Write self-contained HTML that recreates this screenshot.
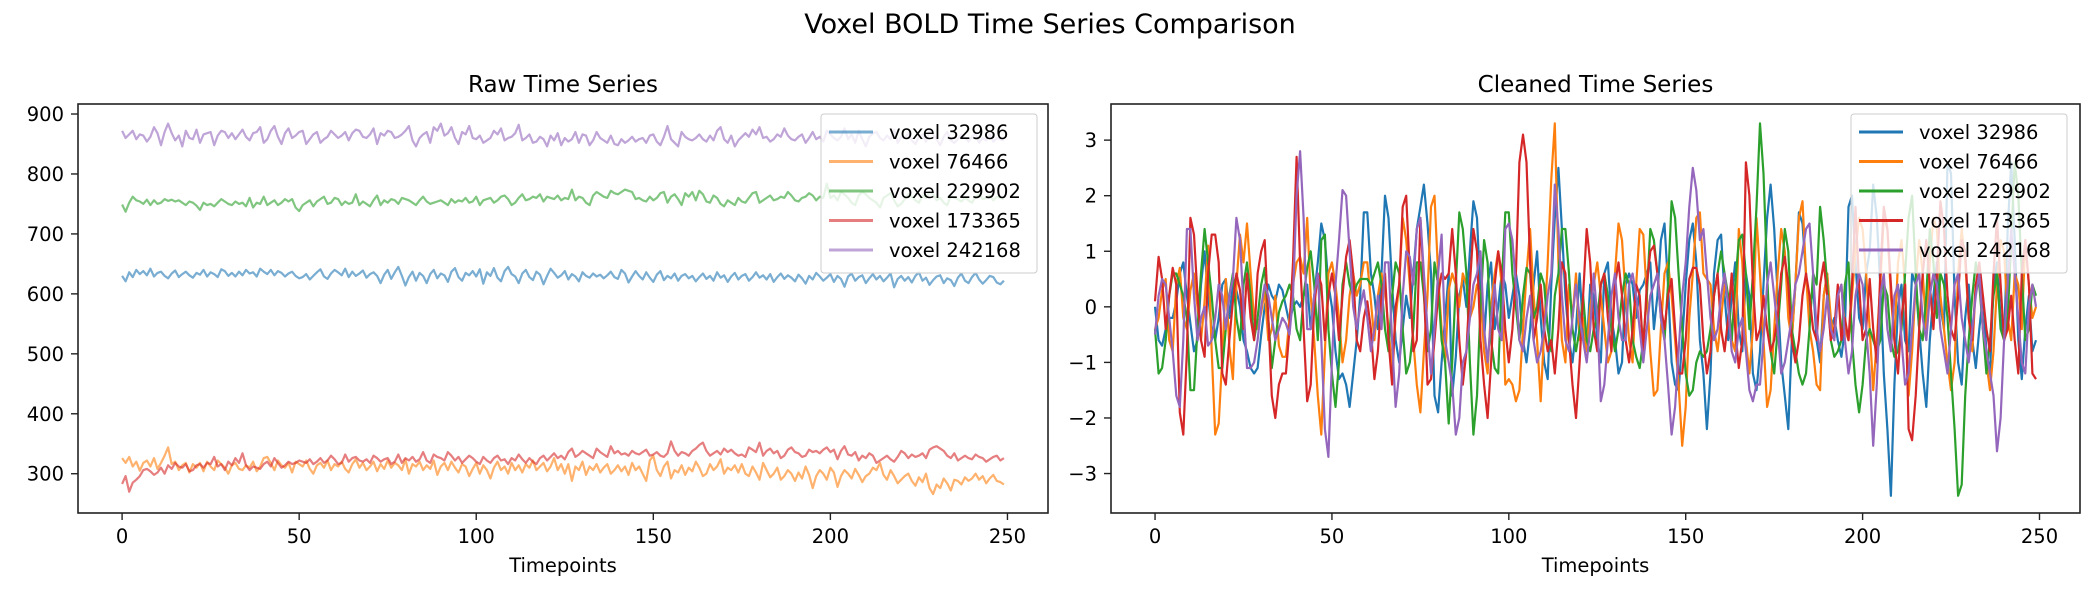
<!DOCTYPE html>
<html><head><meta charset="utf-8"><style>
body{margin:0;background:#fff;}
svg{display:block;font-family:"DejaVu Sans","Liberation Sans",sans-serif;}
</style></head><body>
<svg id="chart" width="2100" height="600" viewBox="0 0 2100 600" xmlns="http://www.w3.org/2000/svg">
<text x="1050" y="33" font-size="27" text-anchor="middle">Voxel BOLD Time Series Comparison</text>
<g id="left"></g>
<g id="right"></g>
</svg>
<script>
const seriesNames = ['voxel 32986','voxel 76466','voxel 229902','voxel 173365','voxel 242168'];
const seriesColors = ['#1f77b4','#ff7f0e','#2ca02c','#d62728','#9467bd'];
const rawTicksY = [300,400,500,600,700,800,900];
const cleanTicksY = [-3,-2,-1,0,1,2,3];
const ticksX = [0,50,100,150,200,250];

const raw32986 = [630,621,636,628,640,633,638,631,642,629,635,637,630,626,634,639,628,633,637,631,627,635,632,640,629,
636,633,628,641,638,630,635,629,637,631,640,634,636,629,642,637,633,640,631,638,635,629,634,637,630,
626,628,633,624,630,636,641,629,625,634,640,636,631,642,628,637,630,634,639,627,633,636,630,618,632,
640,625,636,645,630,614,628,637,622,635,630,618,633,640,626,634,631,620,637,643,628,622,635,631,638,
629,641,617,636,630,643,627,621,638,645,633,629,618,634,640,628,623,637,632,616,630,642,635,627,631,
638,624,633,629,621,636,630,627,634,629,632,626,631,637,628,625,640,634,619,629,638,630,624,636,627,
620,632,638,623,630,626,634,622,630,633,626,630,621,628,634,625,630,622,636,627,631,620,629,635,624,
630,633,622,628,636,627,631,624,633,620,628,634,625,631,627,621,632,626,617,630,624,635,629,622,627,
633,620,630,625,612,629,634,622,628,631,618,626,633,624,630,621,627,634,611,625,630,622,628,619,630,
636,622,627,615,623,629,631,618,626,623,613,627,634,622,618,628,635,624,617,623,630,628,619,616,622];
const raw76466 = [326,318,328,312,320,305,318,322,312,326,308,318,330,344,316,320,306,314,318,302,316,310,318,304,320,
312,306,322,316,310,300,314,318,308,306,314,310,320,304,312,326,328,318,306,322,314,310,318,302,320,
316,312,322,308,300,314,318,310,322,306,316,312,320,308,302,316,324,310,318,306,312,320,304,316,308,
322,310,318,314,306,324,300,316,312,320,306,314,308,322,298,312,318,306,320,310,302,316,312,296,308,
318,300,314,306,292,310,320,306,312,300,318,306,314,302,316,310,322,306,312,318,304,312,326,306,316,
300,316,288,312,306,320,298,312,306,316,302,310,316,300,306,314,304,312,298,318,306,312,300,288,322,
330,306,296,312,320,292,306,302,314,298,310,304,320,310,296,300,316,306,312,324,300,310,306,314,302,
316,300,296,312,302,290,318,306,294,300,310,290,296,306,300,288,302,292,312,298,276,296,306,300,290,
310,302,278,296,306,300,292,308,298,286,296,300,310,306,318,298,290,306,296,284,290,296,300,288,280,
294,286,300,276,266,282,276,292,284,272,290,288,282,294,288,292,300,290,296,284,292,298,288,286,282];
const raw229902 = [749,737,752,762,756,754,750,757,748,756,750,752,758,755,757,754,756,752,748,754,752,747,740,752,748,
750,746,752,758,754,750,748,754,750,752,746,760,744,752,750,762,748,752,756,748,752,758,754,758,744,
738,748,752,756,746,754,758,762,750,752,760,758,748,754,750,752,766,748,754,750,746,756,764,748,756,
752,758,756,750,760,758,756,752,748,756,762,754,750,752,754,756,752,748,758,752,756,754,760,752,754,
762,748,756,758,760,752,756,762,764,758,748,752,760,766,756,758,762,760,766,754,762,760,758,764,756,
760,758,774,756,762,760,752,748,764,770,766,762,760,772,768,766,770,774,772,770,758,760,756,754,762,
756,760,768,770,752,762,766,758,748,768,762,770,756,772,766,754,752,764,760,750,746,756,752,748,760,
754,752,760,768,770,752,756,760,764,756,758,762,760,770,764,756,754,760,762,768,764,756,762,760,784,
760,764,756,770,766,760,752,748,764,770,766,760,756,752,744,760,764,768,756,746,750,758,766,762,756,
752,764,760,770,766,756,760,752,748,764,760,758,754,760,756,752,762,766,758,760,764,756,762,760,758];
const raw173365 = [283,296,270,285,290,296,306,308,304,298,302,310,300,314,308,318,312,310,316,304,306,314,316,310,318,
316,328,312,316,306,320,314,326,318,334,314,306,312,310,308,316,320,312,326,318,310,314,320,316,318,
322,320,318,324,316,320,326,318,322,330,324,316,318,332,320,326,328,322,320,324,318,330,326,320,324,
326,316,320,332,318,326,322,328,320,324,336,322,318,332,328,326,322,336,330,322,328,318,324,330,326,
320,316,328,322,318,326,330,322,324,316,326,322,332,324,318,326,320,316,326,330,322,328,334,326,330,
324,336,342,328,332,338,334,330,326,342,336,332,328,346,334,338,332,334,330,338,334,332,336,340,330,
332,336,330,328,334,354,338,330,336,334,330,338,342,348,352,338,330,334,338,332,342,336,340,334,330,
332,328,344,340,336,352,330,338,342,334,338,326,330,340,344,336,334,328,330,340,336,338,334,340,344,
336,340,324,338,346,332,330,336,322,330,326,334,330,318,322,326,330,324,320,328,338,334,326,332,328,
330,334,326,340,344,346,342,338,330,326,334,322,326,330,326,324,332,328,326,320,324,328,330,322,326];
const raw242168 = [872,860,866,872,858,866,864,854,862,878,868,848,870,884,868,856,864,846,872,860,858,874,852,866,868,
870,848,864,872,870,860,868,858,866,874,862,856,868,870,878,852,858,872,880,862,850,868,876,860,864,
870,872,850,858,866,870,852,858,862,872,866,860,864,870,856,868,874,872,862,860,866,876,850,868,864,
872,870,860,862,866,872,880,856,846,860,866,870,852,878,872,884,864,868,878,860,850,870,866,880,860,
858,864,852,856,860,872,866,876,856,860,862,868,882,856,860,866,852,854,862,858,846,864,856,868,848,
860,854,858,870,852,866,864,848,856,870,860,856,852,864,850,848,858,852,856,862,854,858,860,852,864,
866,854,848,862,880,858,852,846,870,862,858,856,860,866,858,854,864,856,872,878,858,852,864,846,856,
862,868,862,874,866,878,860,862,854,858,866,862,876,864,858,856,862,866,852,860,870,858,862,854,872,
866,860,856,862,876,858,866,852,872,858,846,862,868,870,860,856,864,858,874,852,862,860,868,856,850,
862,866,854,872,866,858,848,862,870,856,852,858,866,860,854,862,868,852,860,856,866,854,860,858,856];

const cln32986 = [0.0,-0.6,-0.7,-0.4,-0.2,-0.2,0.1,0.6,0.8,0.2,-0.3,-0.8,-0.6,0.4,1.0,0.2,-0.4,-0.6,-0.2,0.4,0.5,-0.2,0.4,0.3,0.0,
-0.6,-0.8,-1.1,-1.2,-1.1,-0.5,0.0,0.4,0.2,0.1,0.4,0.3,0.0,-0.3,0.0,0.1,0.0,0.2,0.4,-0.4,0.2,0.8,1.5,1.2,0.4,
0.0,-0.8,-1.3,-1.2,-1.4,-1.8,-1.2,-0.6,0.2,1.7,1.7,0.6,0.2,-0.4,0.6,2.0,1.6,0.4,-0.6,-1.0,-0.4,0.2,-0.2,0.6,1.4,
1.8,2.2,1.5,0.6,-1.6,-1.9,-1.0,-0.2,0.6,-1.6,-0.9,0.2,0.5,0.0,1.0,1.9,1.6,0.2,-0.6,0.4,0.8,-0.4,0.0,0.6,0.4,
-0.2,0.2,0.6,0.2,-0.6,-1.0,-0.4,0.4,1.0,-0.2,-1.0,-1.3,0.4,1.6,2.5,1.4,0.2,-0.6,-1.0,-0.4,0.6,-0.4,-0.8,0.4,0.2,
-0.6,-1.0,0.6,0.8,-0.2,-0.6,-1.2,-1.0,0.4,0.6,0.4,-0.2,0.3,0.4,0.6,0.8,-0.4,0.2,1.2,1.5,0.4,-1.0,-1.4,-1.5,-0.6,
0.4,1.2,1.5,0.8,-0.6,-1.2,-2.2,-1.2,0.6,1.2,1.3,0.2,-0.6,0.2,0.8,-0.4,-0.8,0.6,0.2,-1.2,-1.5,-0.8,0.4,1.6,2.2,
1.4,0.2,-1.0,-1.6,-2.2,-0.6,0.4,1.7,1.5,0.6,-0.2,0.4,-0.6,-1.0,0.2,0.6,-0.4,-0.2,-0.6,-0.9,-0.4,1.8,2.0,0.8,-0.2,
-0.4,0.6,1.0,2.2,1.6,0.4,-1.2,-2.2,-3.4,-1.4,0.0,0.4,-0.6,-0.8,0.6,0.4,-0.4,-1.2,-1.8,-0.6,0.2,0.8,0.0,-0.4,2.6,
2.4,0.2,-1.0,-1.4,-0.2,0.4,-0.6,-1.1,-0.4,0.2,-0.8,-1.2,0.4,0.8,-0.2,-0.6,1.4,2.6,1.2,-0.6,-1.3,-0.4,0.2,-0.8,-0.6];
const cln76466 = [-0.4,-0.2,0.3,0.5,-0.6,-0.8,0.4,0.7,-0.2,-0.4,0.3,0.6,0.0,-0.6,0.1,1.1,-0.8,-2.3,-2.1,-0.9,0.5,-0.7,-1.3,0.4,1.3,
0.8,1.5,0.6,-0.2,-0.4,-0.1,0.3,-0.6,-0.4,0.2,-0.7,-0.9,-0.9,-0.2,0.4,0.8,0.9,0.6,1.6,0.2,-0.6,-1.6,-2.3,-0.8,0.6,
0.8,0.4,-0.2,-1.0,-0.6,0.2,0.6,0.2,0.4,0.8,0.8,0.1,-0.6,0.2,0.6,0.3,-0.4,-1.1,-0.2,0.4,1.6,1.2,0.4,-0.6,-1.4,
-1.9,-0.8,0.2,1.8,2.0,0.6,-0.4,-1.0,0.3,0.6,0.4,0.0,0.6,0.4,-0.2,0.0,0.4,0.2,-0.8,-1.2,0.0,0.6,1.0,0.4,-1.4,
-1.3,-1.4,-1.7,-1.5,-0.4,0.6,1.4,0.2,-0.6,-1.7,-0.4,0.8,2.3,3.3,0.8,-0.6,-1.0,0.4,-0.2,0.6,-0.6,-0.2,-0.8,0.0,0.4,
0.8,0.2,-0.4,-1.0,-0.8,0.6,1.5,1.2,0.2,-0.6,-1.0,0.4,1.4,1.3,0.2,-0.8,-1.6,-1.5,-0.4,0.6,0.8,0.2,-0.6,-1.4,-2.5,
-1.8,-0.2,0.6,1.6,1.7,0.6,0.5,0.4,-0.4,-0.8,-0.2,0.4,0.2,-0.6,-0.8,1.4,0.8,-0.6,-1.2,-0.4,1.6,0.6,-0.6,-1.8,-1.5,
-0.4,0.6,1.4,1.0,-0.2,-0.6,0.4,1.6,1.9,0.6,-0.4,-0.8,-1.4,-1.5,0.2,0.6,-0.2,-0.6,0.2,0.4,-0.4,-0.6,0.2,1.0,1.6,
1.4,0.6,-0.4,-1.5,-0.6,0.4,1.6,1.4,0.2,-0.6,0.8,1.2,0.4,-1.6,-0.8,0.4,1.2,0.6,-0.4,0.8,1.6,1.4,0.2,-0.4,-1.0,
-1.5,-1.0,0.6,1.4,0.8,-0.2,-0.8,0.4,0.6,-0.4,-1.0,-1.5,-0.8,0.4,1.2,1.0,-0.2,-0.6,0.6,0.4,-0.4,1.2,0.4,-0.2,0.0];
const cln229902 = [-0.4,-1.2,-1.1,-0.6,0.2,0.6,0.6,0.4,0.2,-0.2,-1.5,-1.5,-0.4,0.6,1.4,0.8,0.2,-0.6,-1.1,-1.1,-0.4,0.2,0.6,-0.2,-0.6,
0.4,0.8,0.2,-0.6,-0.2,0.4,0.7,-0.2,-1.1,-0.6,-0.1,0.1,0.2,0.4,0.2,-0.4,-0.6,0.2,0.7,1.0,0.4,-0.6,1.2,1.3,-0.4,
-1.2,-1.8,-1.0,0.4,0.8,0.4,0.2,0.4,0.5,0.5,0.5,0.4,0.6,0.8,0.4,-0.4,-0.8,0.2,0.8,0.6,-0.4,-1.2,-1.0,-0.4,0.8,
0.8,0.2,-0.8,-0.4,0.8,0.4,-0.6,-1.0,-2.1,-1.0,0.4,1.7,1.4,0.6,-1.0,-2.3,-1.6,0.0,1.2,0.8,-0.6,-1.1,-1.2,0.4,1.7,
1.7,0.6,0.0,-0.6,0.2,0.7,0.6,-0.2,0.0,0.6,0.4,-0.4,-0.8,0.2,0.6,1.4,1.4,0.6,-0.4,-0.8,-0.4,0.2,-0.6,-0.8,-0.4,
-0.2,0.4,0.6,0.2,-0.4,-0.8,-0.4,0.2,0.6,0.4,-0.6,-0.9,-1.1,-0.6,0.2,1.4,1.2,0.6,-0.2,-0.6,0.4,1.9,1.6,0.6,-0.4,
-1.2,-1.6,-1.5,-1.0,-0.8,-0.9,-0.8,-0.4,0.2,0.6,1.0,0.6,0.2,-0.6,0.4,1.2,1.3,0.6,-0.4,0.6,1.8,3.3,2.4,0.6,-0.8,
-1.2,-0.4,0.4,1.4,1.0,-0.4,-0.8,-1.2,-1.4,-1.2,-0.4,0.6,0.4,1.8,1.2,0.4,-0.6,-0.9,-0.8,-0.6,0.4,0.8,-0.6,-1.4,-1.9,
-1.4,-0.6,-0.4,-0.6,-0.8,-0.6,0.4,0.2,-0.6,-0.9,-0.8,-0.4,0.6,1.6,2.0,0.6,-0.4,-0.6,0.2,1.4,0.8,-0.2,0.6,0.4,-0.2,
-1.2,-2.2,-3.4,-3.2,-1.6,-0.6,0.2,0.8,0.4,-0.4,-1.2,-0.6,0.2,0.6,-0.4,-0.6,-0.2,1.2,2.6,2.0,0.6,-0.6,-0.4,0.4,0.2];
const cln173365 = [0.1,0.9,0.5,-0.4,0.2,0.7,0.4,-1.9,-2.3,-0.8,1.6,1.3,0.2,-0.6,-0.9,0.6,1.3,1.3,0.8,-1.2,-1.4,-0.6,0.1,0.6,0.3,
-0.4,0.6,-0.2,-0.6,0.6,1.0,1.2,-0.2,-1.6,-2.0,-1.4,-1.2,-1.2,-0.4,0.8,2.7,0.8,-0.4,-1.7,-1.4,0.0,0.6,0.4,-0.6,0.2,
0.6,0.2,-0.6,0.2,0.9,1.2,0.6,-0.6,-0.8,-0.2,0.1,-0.4,-1.3,-0.8,0.2,0.6,-0.6,-1.4,0.0,0.4,1.8,2.0,0.6,-0.8,-0.6,
1.6,0.4,-1.4,-1.3,-0.6,0.2,0.6,0.5,0.6,1.4,0.6,-0.6,-1.4,-0.8,0.4,1.4,1.0,-0.6,-1.4,-2.0,-1.0,0.4,1.0,0.6,-0.4,
-1.0,-0.4,0.6,2.6,3.1,2.6,0.8,-0.6,-0.2,0.4,-0.4,-0.8,-0.6,-1.2,-0.4,0.8,0.6,-0.6,-1.4,-2.0,-1.0,0.2,1.4,0.8,-0.4,
-0.8,0.4,0.6,-0.2,-0.8,0.4,0.8,0.2,-0.6,-1.0,-0.4,0.4,0.2,-0.8,0.4,1.0,1.1,0.6,0.0,-0.4,0.2,0.5,-0.4,-1.2,-1.2,
-0.6,0.5,0.7,0.7,0.4,-0.6,-1.2,-0.8,0.2,0.6,-0.4,-0.8,-0.2,0.6,-0.4,-1.1,-0.6,2.6,2.0,0.4,-0.6,-0.4,0.2,-0.4,-0.8,
-0.6,-0.2,0.6,0.9,0.4,-0.6,-1.0,-0.6,0.2,0.6,0.2,-0.4,-0.6,0.4,0.8,0.2,-0.6,-0.4,0.4,-0.6,-0.2,-0.6,0.4,1.8,0.4,
-0.6,-0.4,0.5,-0.4,-1.0,0.6,1.8,1.4,0.4,-0.6,-1.2,-0.2,0.4,-2.2,-2.4,-1.6,-0.4,0.6,1.2,0.4,-0.4,0.6,1.9,1.4,0.2,
-0.4,-0.6,0.2,1.2,1.0,-0.2,-0.6,0.4,0.8,0.2,-0.4,-0.8,0.6,1.6,0.4,-0.6,-0.4,0.2,-0.6,-1.2,0.6,1.2,0.4,-1.2,-1.3];
const cln242168 = [-0.5,0.2,0.5,0.4,-0.2,-0.8,-1.6,-1.8,-0.6,1.4,1.4,0.2,-0.6,-0.2,0.0,-0.7,-0.6,-0.2,0.4,0.2,-0.4,0.2,0.5,1.6,1.2,
0.0,-1.1,-1.1,-1.0,-0.6,0.0,0.4,0.2,-0.2,-0.6,-0.4,-0.2,-0.3,-0.5,0.2,2.0,2.8,1.6,-0.4,-0.4,0.2,0.6,-0.6,-2.2,-2.7,
-1.0,0.4,1.2,2.1,2.0,1.0,0.0,-0.4,0.0,0.3,-0.2,-0.8,-0.4,0.2,-0.4,0.8,0.8,-0.6,-1.8,-1.2,0.2,1.0,0.9,0.4,1.4,
1.6,0.6,-0.4,-1.2,-0.4,0.6,1.3,-0.6,-1.0,-1.4,-2.3,-2.0,-1.0,-0.8,-0.2,0.4,0.6,1.0,-0.4,-1.0,-0.2,0.4,-0.4,-0.6,1.4,
1.5,1.2,0.4,-0.6,-0.8,-0.2,0.2,-0.6,-1.0,-0.8,-0.4,0.2,0.6,2.2,1.4,0.2,-0.6,-0.8,-0.2,0.4,-0.2,-0.6,-1.0,-0.4,0.6,
-0.2,-1.7,-1.4,-0.6,0.2,0.6,-0.2,-0.6,-0.6,0.4,0.6,0.2,-0.4,-1.0,-0.4,0.2,0.4,0.6,-0.2,-0.6,-1.4,-2.3,-1.8,-0.8,0.2,
0.8,1.8,2.5,2.1,1.2,1.4,0.6,-0.2,-0.6,-0.4,0.2,0.6,0.0,-0.8,-1.0,-0.4,-0.2,-0.8,-1.5,-1.7,-1.4,-1.4,-0.6,0.4,0.8,
0.2,-0.4,-1.2,-1.0,-0.6,-0.2,0.4,0.6,1.0,1.4,1.5,0.6,-0.4,-0.8,-0.4,0.2,-0.4,-0.6,0.2,0.4,-0.6,-1.2,-0.8,0.2,0.6,
0.4,-0.4,-1.2,-2.5,-1.4,0.2,0.6,-0.4,-0.8,0.2,0.4,-0.6,-1.4,-1.2,-0.4,0.4,0.6,-0.2,-0.6,0.2,0.6,0.4,-0.4,-0.8,-1.2,
-0.4,0.4,0.6,-0.2,-0.6,-1.0,-0.4,0.2,0.6,-0.4,-0.8,-1.2,-1.6,-2.6,-2.0,-0.6,0.4,1.4,0.6,-0.2,-1.0,-1.2,0.0,0.4,0.0];

const rawSeries = [raw32986,raw76466,raw229902,raw173365,raw242168];
const cleanSeries = [cln32986,cln76466,cln229902,cln173365,cln242168];

const NS='http://www.w3.org/2000/svg';
function mk(tag, attrs, parent){const e=document.createElementNS(NS,tag);for(const k in attrs)e.setAttribute(k,attrs[k]);parent.appendChild(e);return e;}

function panel(g, box, yDom, yTicks, series, opacity, title, legendX){
  const xDom=[-12.45,261.45];
  const sx=v=>box.l+(v-xDom[0])/(xDom[1]-xDom[0])*(box.r-box.l);
  const sy=v=>box.b-(v-yDom[0])/(yDom[1]-yDom[0])*(box.b-box.t);
  const t=mk('text',{x:(box.l+box.r)/2,y:box.t-12,'font-size':23,'text-anchor':'middle'},g);
  t.textContent=title;
  
  
  series.forEach((arr,i)=>{
    const pts=arr.map((v,j)=>sx(j).toFixed(1)+','+sy(v).toFixed(1)).join(' ');
    const pl=mk('polyline',{points:pts,fill:'none',stroke:seriesColors[i],'stroke-width':2.2,'stroke-opacity':opacity,'stroke-linejoin':'round'},g);
    
    
  });
  const fr=mk('rect',{x:box.l,y:box.t,width:box.r-box.l,height:box.b-box.t,fill:'none',stroke:'#222','stroke-width':1.6},g);
  
  
  ticksX.forEach(v=>{
    const x=sx(v);
    mk('line',{x1:x,x2:x,y1:box.b,y2:box.b+7,stroke:'#222','stroke-width':1.4},g);
    const tl=mk('text',{x:x,y:box.b+30,'font-size':19.5,'text-anchor':'middle'},g);
    tl.textContent=v;
    
    
  });
  yTicks.forEach(v=>{
    const y=sy(v);
    mk('line',{x1:box.l-7,x2:box.l,y1:y,y2:y,stroke:'#222','stroke-width':1.4},g);
    const tl=mk('text',{x:box.l-14,y:y+7,'font-size':19.5,'text-anchor':'end'},g);
    tl.textContent=v<0?'\u2212'+Math.abs(v):v;
    
    
  });
  const xl=mk('text',{x:(box.l+box.r)/2,y:box.b+59,'font-size':19.5,'text-anchor':'middle'},g);
  xl.textContent='Timepoints';
  
  
  const lg=mk('g',{},g);
  
  
  mk('rect',{x:legendX,y:114,width:216,height:159,rx:3,fill:'#fff','fill-opacity':0.8,stroke:'#ccc','stroke-width':1},lg);
  seriesNames.forEach((n,i)=>{
    const y=132+i*29.5;
    mk('line',{x1:legendX+8,x2:legendX+52,y1:y,y2:y,stroke:seriesColors[i],'stroke-width':3,'stroke-opacity':opacity},lg);
    const tx=mk('text',{x:legendX+68,y:y+7,'font-size':19.5},lg);
    tx.textContent=n;
    
    
  });
}
panel(document.getElementById('left'),{l:78,r:1048,t:104,b:513},[234.5,916.7],rawTicksY,rawSeries,0.6,'Raw Time Series',821);
panel(document.getElementById('right'),{l:1111,r:2080,t:104,b:513},[-3.71,3.65],cleanTicksY,cleanSeries,1,'Cleaned Time Series',1851);
</script>
</body></html>
